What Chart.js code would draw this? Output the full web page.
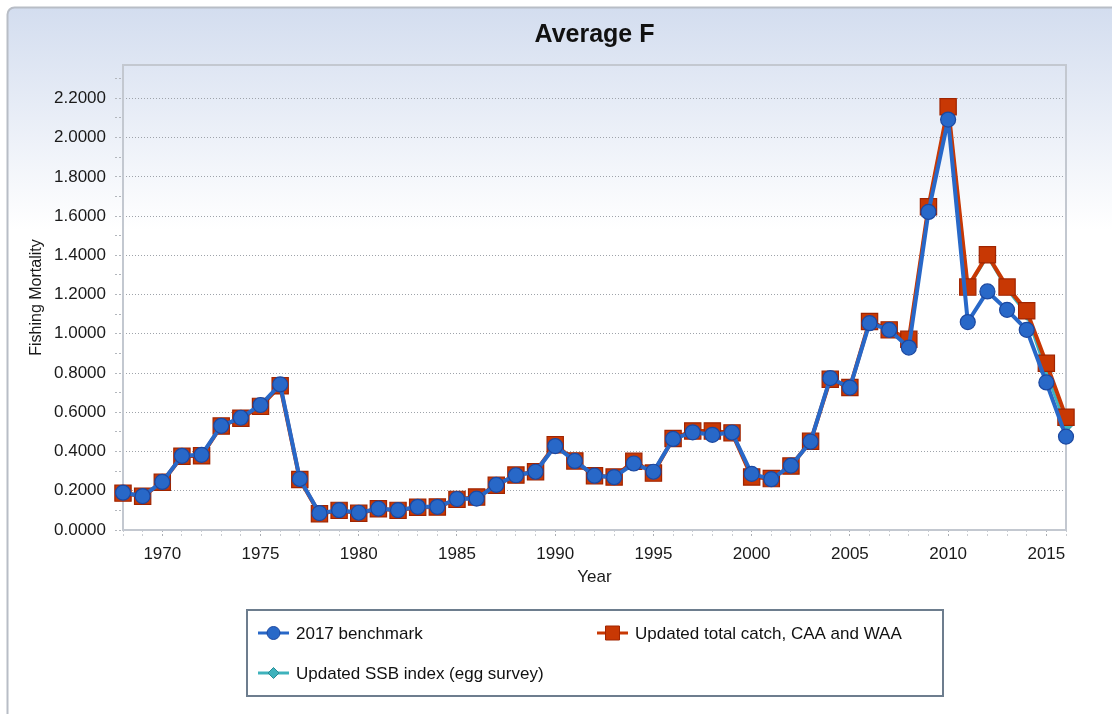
<!DOCTYPE html>
<html>
<head>
<meta charset="utf-8">
<script src="https://cdn.jsdelivr.net/npm/chart.js"></script>
<style>
  html, body { margin: 0; padding: 0; background: #fff; }
  #wrap { width: 1112px; height: 714px; position: relative; }
</style>
</head>
<body>
<div id="wrap"><canvas id="myChart"></canvas></div>
<script>
// years on the x axis
var years = [];
for (var yr = 1968; yr <= 2016; yr++) years.push(yr);

var benchmark2017 = [
  0.190, 0.173, 0.245, 0.378, 0.383, 0.531, 0.572, 0.637, 0.742, 0.260,
  0.086, 0.101, 0.088, 0.109, 0.101, 0.118, 0.118, 0.158, 0.160, 0.230,
  0.279, 0.297, 0.428, 0.352, 0.277, 0.269, 0.339, 0.297, 0.464, 0.498,
  0.485, 0.497, 0.286, 0.259, 0.328, 0.450, 0.774, 0.726, 1.054, 1.020,
  0.930, 1.621, 2.092, 1.060, 1.216, 1.122, 1.020, 0.752, 0.476
];
var updatedCatch = [
  0.188, 0.172, 0.243, 0.376, 0.378, 0.530, 0.570, 0.630, 0.735, 0.257,
  0.083, 0.100, 0.085, 0.108, 0.100, 0.116, 0.117, 0.156, 0.168, 0.228,
  0.280, 0.297, 0.435, 0.352, 0.276, 0.270, 0.350, 0.290, 0.466, 0.505,
  0.505, 0.495, 0.270, 0.262, 0.326, 0.452, 0.768, 0.726, 1.063, 1.020,
  0.972, 1.648, 2.157, 1.238, 1.403, 1.238, 1.117, 0.850, 0.575
];
var updatedSSB = [
  0.188, 0.172, 0.243, 0.376, 0.378, 0.530, 0.570, 0.630, 0.735, 0.257,
  0.083, 0.100, 0.085, 0.108, 0.100, 0.116, 0.117, 0.156, 0.168, 0.228,
  0.280, 0.297, 0.435, 0.352, 0.276, 0.270, 0.350, 0.290, 0.466, 0.505,
  0.505, 0.495, 0.270, 0.262, 0.326, 0.452, 0.768, 0.726, 1.063, 1.020,
  0.970, 1.645, 2.150, 1.232, 1.395, 1.228, 1.100, 0.805, 0.528
];
var seriesNames = ["2017 benchmark", "Updated total catch, CAA and WAA", "Updated SSB index (egg survey)"];
var xTickLabels = [1970, 1975, 1980, 1985, 1990, 1995, 2000, 2005, 2010, 2015];
var chartTitle = "Average F";

var FONT = "'Liberation Sans', Arial, sans-serif";
var BLUE = "rgb(40,104,200)", BLUE_DARK = "rgb(28,72,160)";
var RED = "rgb(200,56,4)", RED_DARK = "rgb(160,36,0)";
var TEAL = "rgb(62,178,188)", TEAL_DARK = "rgb(40,140,150)";

function pts(arr) {
  return years.map(function(y, i) { return {x: y, y: arr[i]}; });
}

// panel background with soft blue gradient, title over plot, plot frame, custom legend box
var decor = {
  id: "decor",
  beforeDraw: function(chart) {
    var ctx = chart.ctx, a = chart.chartArea;
    ctx.save();
    ctx.fillStyle = "#fff";
    ctx.fillRect(0, 0, chart.width, chart.height);
    var g = ctx.createLinearGradient(0, 7, 0, 230);
    g.addColorStop(0, "#d3ddef");
    g.addColorStop(1, "#ffffff");
    ctx.beginPath();
    ctx.roundRect(7.5, 7.5, chart.width + 20, chart.height + 20, 7);
    ctx.fillStyle = g;
    ctx.fill();
    ctx.lineWidth = 2;
    ctx.strokeStyle = "#b8bdc6";
    ctx.stroke();

    ctx.fillStyle = "#111";
    ctx.font = "bold 25px " + FONT;
    ctx.textAlign = "center";
    ctx.textBaseline = "middle";
    ctx.fillText(chartTitle, (a.left + a.right) / 2, 35);
    ctx.restore();
  },
  beforeDatasetsDraw: function(chart) {
    var a = chart.chartArea, ctx = chart.ctx;
    ctx.save();
    ctx.lineWidth = 2;
    ctx.strokeStyle = "#c3c8d0";
    ctx.strokeRect(a.left, a.top, a.right - a.left, a.bottom - a.top);
    ctx.restore();
  },
  afterDraw: function(chart) {
    var ctx = chart.ctx;
    ctx.save();
    ctx.fillStyle = "#fff";
    ctx.fillRect(247, 610, 696, 86);
    ctx.lineWidth = 2;
    ctx.strokeStyle = "#6d7d8e";
    ctx.strokeRect(247, 610, 696, 86);

    var items = [
      {x: 258, y: 633, line: BLUE, fill: BLUE, edge: BLUE_DARK, shape: "circle", text: seriesNames[0]},
      {x: 597, y: 633, line: RED, fill: RED, edge: RED_DARK, shape: "square", text: seriesNames[1]},
      {x: 258, y: 673, line: TEAL, fill: TEAL, edge: TEAL_DARK, shape: "diamond", text: seriesNames[2]}
    ];
    items.forEach(function(it) {
      ctx.strokeStyle = it.line;
      ctx.lineWidth = 3;
      ctx.beginPath();
      ctx.moveTo(it.x, it.y);
      ctx.lineTo(it.x + 31, it.y);
      ctx.stroke();
      var cx = it.x + 15.5;
      ctx.fillStyle = it.fill;
      ctx.strokeStyle = it.edge;
      ctx.lineWidth = 1;
      ctx.beginPath();
      if (it.shape === "circle") ctx.arc(cx, it.y, 6.5, 0, Math.PI * 2);
      else if (it.shape === "square") ctx.rect(cx - 7, it.y - 7, 14, 14);
      else { ctx.moveTo(cx, it.y - 5.5); ctx.lineTo(cx + 5.5, it.y); ctx.lineTo(cx, it.y + 5.5); ctx.lineTo(cx - 5.5, it.y); ctx.closePath(); }
      ctx.fill();
      ctx.stroke();
      ctx.fillStyle = "#111";
      ctx.font = "17px " + FONT;
      ctx.textBaseline = "middle";
      ctx.textAlign = "left";
      ctx.fillText(it.text, it.x + 38, it.y + 1);
    });
    ctx.restore();
  }
};

var ctx = document.getElementById("myChart").getContext("2d");
var chart = new Chart(ctx, {
  type: "line",
  data: {
    datasets: [{
      label: seriesNames[0],
      data: pts(benchmark2017),
      borderColor: BLUE,
      backgroundColor: BLUE,
      pointBorderColor: BLUE_DARK,
      pointBackgroundColor: BLUE,
      borderWidth: 4,
      borderJoinStyle: "round",
      pointStyle: "circle",
      pointRadius: 7.5,
      pointBorderWidth: 1.2,
      clip: false
    }, {
      label: seriesNames[1],
      data: pts(updatedCatch),
      borderColor: RED,
      backgroundColor: RED,
      pointBorderColor: RED_DARK,
      pointBackgroundColor: RED,
      borderWidth: 4,
      borderJoinStyle: "round",
      pointStyle: "rect",
      pointRadius: 11.5,
      pointBorderWidth: 1.2,
      clip: false
    }, {
      label: seriesNames[2],
      data: pts(updatedSSB),
      borderColor: TEAL,
      backgroundColor: TEAL,
      pointBorderColor: TEAL_DARK,
      pointBackgroundColor: TEAL,
      borderWidth: 3,
      borderJoinStyle: "round",
      pointStyle: "rectRot",
      pointRadius: 6,
      pointBorderWidth: 1,
      clip: false
    }]
  },
  options: {
    responsive: true,
    maintainAspectRatio: false,
    devicePixelRatio: 1,
    animation: false,
    layout: { padding: { left: 0, right: 46, top: 65, bottom: 114 } },
    plugins: {
      legend: { display: false },
      tooltip: { enabled: false },
      title: { display: false }
    },
    scales: {
      x: {
        type: "linear",
        min: 1968,
        max: 2016,
        afterBuildTicks: function(scale) {
          scale.ticks = years.map(function(y) { return {value: y}; });
        },
        afterFit: function(scale) { scale.height = 70; },
        border: { display: false },
        grid: {
          drawOnChartArea: false,
          tickLength: 8,
          tickColor: function(c) { return xTickLabels.indexOf(c.tick.value) >= 0 ? "#a9adb3" : "#c8cbd0"; },
          tickBorderDash: [2, 2]
        },
        ticks: {
          autoSkip: false,
          maxRotation: 0,
          padding: 6,
          color: "#1a1a1a",
          font: { family: FONT, size: 17 },
          callback: function(v) { return xTickLabels.indexOf(v) >= 0 ? String(v) : ""; }
        },
        title: {
          display: true,
          text: "Year",
          color: "#1a1a1a",
          font: { family: FONT, size: 17 },
          padding: { top: 0, bottom: 12 }
        }
      },
      y: {
        min: 0,
        max: 2.37,
        afterBuildTicks: function(scale) {
          var t = [];
          for (var i = 0; i <= 23; i++) t.push({value: i / 10});
          scale.ticks = t;
        },
        afterFit: function(scale) { scale.width = 123; },
        border: { display: false, dash: [1, 2] },
        grid: {
          color: function(c) {
            var k = Math.round(c.tick.value * 10);
            return (k % 2 === 0 && k > 0) ? "#9ea3aa" : "rgba(0,0,0,0)";
          },
          tickLength: 8,
          tickColor: "#b2b6bc",
          tickBorderDash: [2, 2]
        },
        ticks: {
          autoSkip: false,
          padding: 9,
          color: "#1a1a1a",
          font: { family: FONT, size: 17 },
          callback: function(v) {
            var k = Math.round(v * 10);
            return k % 2 === 0 ? (k / 10).toFixed(4) : "";
          }
        },
        title: {
          display: true,
          text: "Fishing Mortality",
          color: "#1a1a1a",
          font: { family: FONT, size: 16 },
          padding: { top: 27, bottom: 0 }
        }
      }
    }
  },
  plugins: [decor]
});
</script>
</body>
</html>
